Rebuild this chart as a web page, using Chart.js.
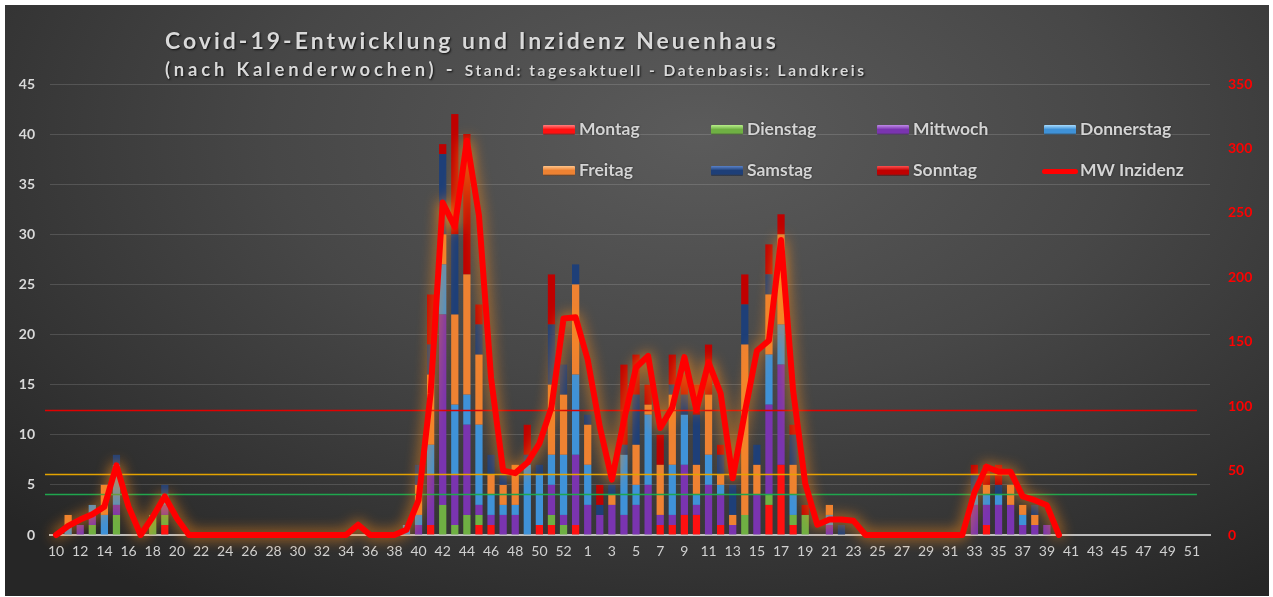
<!DOCTYPE html>
<html lang="de">
<head>
<meta charset="utf-8">
<title>Covid-19-Entwicklung und Inzidenz Neuenhaus</title>
<script src="https://cdn.jsdelivr.net/npm/chart.js@4.4.1/dist/chart.umd.min.js"></script>
<style>
  html, body { margin: 0; padding: 0; background: #fff; }
  body { width: 1273px; height: 597px; overflow: hidden; position: relative; font-family: Lato, "Open Sans", sans-serif; }
  #wrap {
    position: absolute; left: 5px; top: 5px; width: 1264px; height: 591px;
    background: radial-gradient(ellipse 75% 95% at 55% 22%, #5b5b5b 0%, #474747 45%, #262626 100%);
  }
  #chart { position: absolute; left: 0; top: 0; }
  .title { position: absolute; left: 160px; color: #d9d9d9; font-weight: bold; white-space: nowrap; text-shadow: 1px 1px 2px #111; }
  .t1 { top: 21px; font-size: 23px; letter-spacing: 3px; }
  .t2 { top: 53px; font-size: 18.5px; letter-spacing: 3.8px; }
  .t2 small { font-size: 15.5px; letter-spacing: 2.5px; }
  .leg { position: absolute; color: #d4d4d4; font-weight: bold; font-size: 17.5px; white-space: nowrap; text-shadow: 0 0 2px #222; }
  .sw { position: absolute; width: 32px; height: 10px; border-radius: 1px; }
  .ln { position: absolute; width: 36px; height: 5px; border-radius: 3px; background: #ff0000; }
</style>
</head>
<body>
<div id="wrap">
  <canvas id="chart" width="1264" height="591"></canvas>
  <div class="title t1">Covid-19-Entwicklung und Inzidenz Neuenhaus</div>
  <div class="title t2">(nach Kalenderwochen) - <small>Stand: tagesaktuell - Datenbasis: Landkreis</small></div>
  <div id="legend"></div>
</div>
<script>
// Kalenderwochen 2020 (KW 10-53) und 2021 (KW 1-52)
const weekLabels = [
  '10','11','12','13','14','15','16','17','18','19','20','21','22','23','24','25','26','27','28','29','30','31',
  '32','33','34','35','36','37','38','39','40','41','42','43','44','45','46','47','48','49','50','51','52','53',
  '1','2','3','4','5','6','7','8','9','10','11','12','13','14','15','16','17','18','19','20','21','22','23','24','25','26',
  '27','28','29','30','31','32','33','34','35','36','37','38','39','40','41','42','43','44','45','46','47','48','49','50','51','52'
];

// Fälle pro Wochentag
const montag = [
  0,0,0,0,0,0,0,0,0,1, 0,0,0,0,0,0,0,0,0,0, 0,0,0,0,0,0,0,0,0,0,
  0,1,0,0,0,1,1,0,0,0, 1,1,0,1,0,0,0,0,0,0, 1,1,2,2,0,1,0,0,0,3,
  7,1,0,0,0,0,0,0,0,0, 0,0,0,0,0,0,0,1,0,0, 0,0,0,0,0,0,0,0,0,0, 0,0,0,0,0,0
];
const dienstag = [
  0,0,0,1,0,2,0,0,2,1, 0,0,0,0,0,0,0,0,0,0, 0,0,0,0,0,0,0,0,0,0,
  0,0,3,1,2,1,0,0,0,0, 0,1,1,0,0,0,0,0,0,0, 0,0,0,0,0,0,0,2,0,1,
  0,1,2,0,0,0,0,0,0,0, 0,0,0,0,0,0,0,0,0,0, 0,0,0,0,0,0,0,0,0,0, 0,0,0,0,0,0
];
const mittwoch = [
  0,0,1,1,0,1,0,0,0,1, 0,0,0,0,0,0,0,0,0,0, 0,0,0,0,0,0,0,0,0,0,
  1,5,19,5,9,1,1,2,2,0, 0,3,1,7,3,2,3,2,3,5, 1,1,5,1,5,3,1,0,4,9,
  10,0,0,0,1,0,0,0,0,0, 0,0,0,0,0,0,3,2,3,3, 1,1,1,0,0,0,0,0,0,0, 0,0,0,0,0,0
];
const donnerstag = [
  0,1,0,1,2,4,0,0,0,1, 0,0,0,0,0,0,0,0,0,0, 0,0,0,0,0,0,0,0,0,1,
  1,3,5,7,3,8,2,1,1,7, 5,3,6,8,4,0,0,6,2,7, 0,5,5,1,3,1,0,0,0,5,
  4,2,0,0,1,0,0,0,0,0, 0,0,0,0,0,0,1,1,1,0, 1,0,0,0,0,0,0,0,0,0, 0,0,0,0,0,0
];
const freitag = [
  0,1,0,0,3,0,0,0,0,0, 0,0,0,0,0,0,0,0,0,0, 0,0,0,0,0,0,0,0,0,0,
  3,7,3,9,12,7,2,2,4,0, 0,7,6,9,4,0,1,0,4,1, 5,7,0,3,6,1,1,17,3,6,
  9,3,0,0,1,0,0,0,0,0, 0,0,0,0,0,0,0,1,0,2, 1,1,0,0,0,0,0,0,0,0, 0,0,0,0,0,0
];
const samstag = [
  0,0,0,0,0,1,0,0,0,1, 0,0,0,0,0,0,0,0,0,0, 0,0,0,0,0,0,0,0,0,0,
  2,3,8,8,0,3,2,1,0,1, 1,6,3,2,1,1,1,1,5,0, 0,1,2,5,0,2,3,4,2,2,
  0,3,0,0,0,1,0,0,0,0, 0,0,0,0,0,0,2,0,1,0, 0,1,0,0,0,0,0,0,0,0, 0,0,0,0,0,0
];
const sonntag = [
  0,0,0,0,0,0,0,0,0,0, 0,0,0,0,0,0,0,0,0,0, 0,0,0,0,0,0,0,0,0,0,
  0,5,1,12,14,2,0,0,0,3, 0,5,0,0,0,2,0,8,4,2, 3,3,2,3,5,1,0,3,0,3,
  2,1,1,0,0,0,0,0,0,0, 0,0,0,0,0,0,1,2,2,0, 0,0,0,0,0,0,0,0,0,0, 0,0,0,0,0,0
];

// Mittelwert Inzidenz (rechte Achse)
const mwInzidenz = [
  0,7,12,16,22,54,22,0,14,30, 13,0,0,0,0,0,0,0,0,0, 0,0,0,0,0,8,0,0,0,4,
  27,110,258,239,306,248,122,50,48,56, 71,99,168,169,136,84,43,89,130,139,
  83,99,138,97,134,110,44,95,143,151, 229,112,40,8,12,12,11,0,0,0,
  0,0,0,0,0,0,33,53,49,49, 30,27,23,0,null,null,null,null,null,null, null,null,null,null,null,null
];

// Grenzlinien (linke Achse)
const thresholdValues = [12.45, 6.1, 4.05];
const thresholdColors = ['#e00000', '#e3a300', '#1fa64e'];

const dayNames = ['Montag', 'Dienstag', 'Mittwoch', 'Donnerstag', 'Freitag', 'Samstag', 'Sonntag'];
const dayData = [montag, dienstag, mittwoch, donnerstag, freitag, samstag, sonntag];
const dayColors = ['#ff1010', '#6fb043', '#7a34b0', '#3f92d8', '#ee8232', '#1e3f78', '#c00000'];
const dayLight = ['#ff8080', '#b8ef8a', '#c08ae8', '#a8dcff', '#ffc48a', '#5a82c8', '#ff5050'];

// Legende (HTML)
const legend = document.getElementById('legend');
const legendCols = [538, 706, 872, 1039];
const legendRows = [125, 166];
[...dayNames, 'MW Inzidenz'].forEach((name, i) => {
  const x = legendCols[i % 4];
  const y = legendRows[Math.floor(i / 4)];
  const mark = document.createElement('div');
  if (i < 7) {
    mark.className = 'sw';
    mark.style.left = x + 'px';
    mark.style.top = (y - 5) + 'px';
    mark.style.background = `linear-gradient(to bottom, ${dayLight[i]} 0%, ${dayColors[i]} 45%, ${dayColors[i]} 80%, #00000055 100%)`;
  } else {
    mark.className = 'ln';
    mark.style.left = (x - 2) + 'px';
    mark.style.top = (y - 2) + 'px';
  }
  legend.appendChild(mark);
  const text = document.createElement('div');
  text.className = 'leg';
  text.textContent = name;
  text.style.left = (x + 36) + 'px';
  text.style.top = (y - 12) + 'px';
  legend.appendChild(text);
});

// Grenzlinien und Glow der Inzidenzlinie
const glowPlugin = {
  id: 'glow',
  beforeDatasetDraw(chart, args) {
    if (chart.data.datasets[args.index].type !== 'line') return;
    const ctx = chart.ctx;
    const x = chart.scales.x;
    const y = chart.scales.y;
    const x0 = chart.chartArea.left - 5;
    const x1 = x.getPixelForValue(weekLabels.length - 1) - 7;
    ctx.save();
    ctx.lineWidth = 1.6;
    thresholdValues.forEach((v, i) => {
      const py = Math.round(y.getPixelForValue(v)) + 0.5;
      ctx.strokeStyle = thresholdColors[i];
      ctx.beginPath();
      ctx.moveTo(x0, py);
      ctx.lineTo(x1, py);
      ctx.stroke();
    });
    ctx.restore();
    ctx.save();
    ctx.shadowColor = 'rgba(255, 140, 20, 0.95)';
    ctx.shadowBlur = 14;
  },
  afterDatasetDraw(chart, args) {
    if (chart.data.datasets[args.index].type !== 'line') return;
    chart.ctx.restore();
  }
};

const barSets = dayNames.map((name, i) => ({
  type: 'bar',
  label: name,
  data: dayData[i],
  backgroundColor: dayColors[i],
  borderWidth: 0,
  stack: 'tage',
  yAxisID: 'y',
  barPercentage: 0.6,
  categoryPercentage: 1,
  order: 1
}));

const ctx = document.getElementById('chart').getContext('2d');
const chart = new Chart(ctx, {
  data: {
    labels: weekLabels,
    datasets: [
      ...barSets,
      {
        type: 'line',
        label: 'MW Inzidenz',
        data: mwInzidenz,
        yAxisID: 'y2',
        borderColor: '#ff0000',
        borderWidth: 6,
        pointRadius: 0,
        tension: 0,
        borderJoinStyle: 'round',
        borderCapStyle: 'round',
        spanGaps: false,
        clip: false,
        order: 0
      }
    ]
  },
  options: {
    responsive: false,
    animation: false,
    layout: { padding: { top: 79, left: 0, right: 0, bottom: 0 } },
    plugins: {
      legend: { display: false },
      tooltip: { enabled: false }
    },
    scales: {
      x: {
        stacked: true,
        offset: true,
        grid: { display: false, drawTicks: false },
        border: { color: '#bdbdbd', width: 2 },
        ticks: {
          autoSkip: false,
          maxRotation: 0,
          padding: 8,
          color: '#d0d0d0',
          font: { family: 'Lato', size: 14 },
          callback: (val, idx) => (idx % 2 === 0 ? weekLabels[idx] : '')
        },
        afterFit: (scale) => { scale.height = 61; }
      },
      y: {
        stacked: true,
        position: 'left',
        min: 0,
        max: 45,
        grid: { color: 'rgba(255,255,255,0.14)', lineWidth: 1, drawTicks: false },
        border: { display: false },
        ticks: {
          stepSize: 5,
          padding: 15,
          color: '#d9d9d9',
          font: { family: 'Lato', size: 14, weight: 'bold' }
        },
        afterFit: (scale) => { scale.width = 45; }
      },
      y2: {
        position: 'right',
        min: 0,
        max: 350,
        grid: { display: false, drawTicks: false },
        border: { display: false },
        ticks: {
          stepSize: 50,
          padding: 18,
          color: '#ff0000',
          font: { family: 'Lato', size: 14, weight: 'bold' }
        },
        afterFit: (scale) => { scale.width = 59; }
      }
    }
  },
  plugins: [glowPlugin]
});
</script>
</body>
</html>
